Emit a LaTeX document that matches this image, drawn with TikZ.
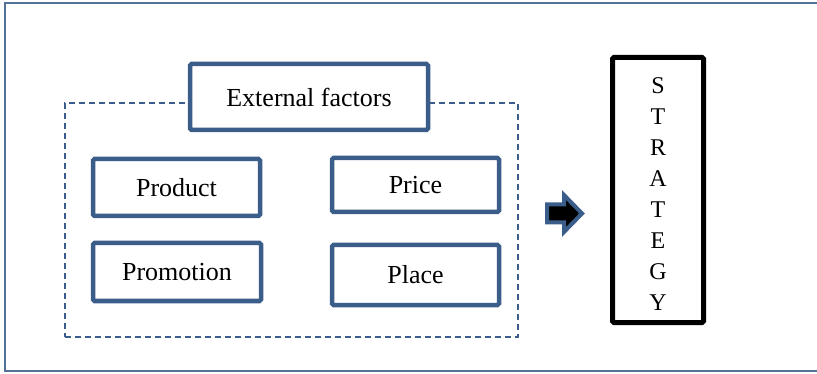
\documentclass[tikz,border=0pt]{standalone}
\usepackage{fontspec}
\setmainfont{Liberation Serif}
\usepackage{xcolor}
\definecolor{boxblue}{RGB}{59, 93, 138}
\definecolor{frameblue}{RGB}{84, 113, 150}
\usetikzlibrary{positioning}

\begin{document}
\begin{tikzpicture}[x=1pt, y=-1pt,
        factor/.style={draw=boxblue, line width=4.5pt, fill=white, rounded corners=1.5pt, inner sep=0pt, minimum width=167pt, font=\fontsize{26}{30}\selectfont},
        letters/.style={align=center, inner sep=0pt, font=\fontsize{24}{30.9}\selectfont}]
                \useasboundingbox (0,0) rectangle (817,374);
                % outer frame, open on the right
                \draw[frameblue, line width=2pt] (817,3.5) -- (4.5,3.5) -- (4.5,371) -- (817,371);
                % the four Ps
                \node[draw=boxblue, line width=1.2pt, dash pattern=on 6pt off 4pt, minimum width=453pt, minimum height=234pt, inner sep=0pt] (mix) at (291.5,220) {};
                \node[factor, minimum width=238pt, minimum height=66pt] (external) at (309,97) {External factors};
                \node[factor, minimum height=57pt] (product) at (176.5,187.5) {Product};
                \node[factor, minimum height=54pt] (price) at (415.5,185) {Price};
                \node[factor, minimum width=168pt, minimum height=58pt] (promotion) at (177,272) {Promotion};
                \node[factor, minimum height=60pt] (place) at (415.5,275) {Place};
                % arrow
                \coordinate (arrow) at (547,213.5);
                \draw[boxblue, line width=4pt, fill=black, line join=miter] (arrow) ++(0,-9) -- ++(17,0) -- ++(0,-9.5) -- ++(18,18.5) -- ++(-18,18.5) -- ++(0,-9.5) -- ++(-17,0) -- cycle;
                % strategy
                \node[draw=black, line width=5pt, rounded corners=1.5pt, minimum width=91pt, minimum height=265pt, inner sep=0pt] (strategy) at (658,190) {};
                \node[letters] (strategytext) at (658,194) {S\\T\\R\\A\\T\\E\\G\\Y};
            \end{tikzpicture}
\end{document}
